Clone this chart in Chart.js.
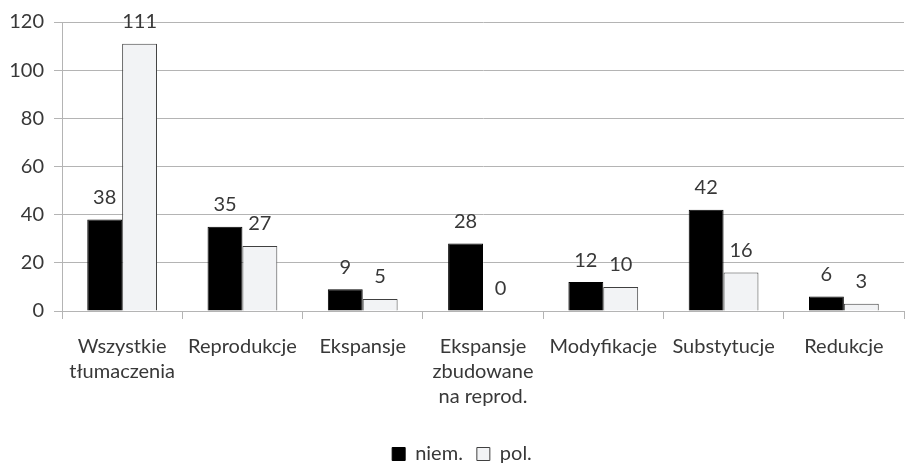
<!DOCTYPE html>
<html>
<head>
<meta charset="utf-8">
<script src="https://cdn.jsdelivr.net/npm/chart.js@4.4.0/dist/chart.umd.min.js"></script>
<style>
  body { margin: 0; background: #fff; }
  #wrap { width: 905px; height: 464px; }
</style>
</head>
<body>
<div id="wrap"><canvas id="chart" width="905" height="464"></canvas></div>
<script>
// dane z wykresu
const categories = [
  ['Wszystkie', 'tłumaczenia'],
  'Reprodukcje',
  'Ekspansje',
  ['Ekspansje', 'zbudowane', 'na reprod.'],
  'Modyfikacje',
  'Substytucje',
  'Redukcje'
];
const niem = [38, 35, 9, 28, 12, 42, 6];
const pol = [111, 27, 5, 0, 10, 16, 3];
const yTicks = [0, 20, 40, 60, 80, 100, 120];

const textColor = '#383838';
const gridColor = '#b4b4b4';
const fontFamily = 'Lato, "Open Sans", sans-serif';

// etykiety wartości nad słupkami
const valueLabels = {
  id: 'valueLabels',
  afterDatasetsDraw(chart) {
    const ctx = chart.ctx;
    ctx.save();
    ctx.font = '20px ' + fontFamily;
    ctx.fillStyle = textColor;
    ctx.textAlign = 'center';
    ctx.textBaseline = 'middle';
    chart.data.datasets.forEach((ds, i) => {
      const meta = chart.getDatasetMeta(i);
      meta.data.forEach((bar, j) => {
        ctx.fillText(ds.data[j], bar.x, bar.y - 22);
      });
    });
    ctx.restore();
  }
};

// legenda w oryginale jest lekko przesunięta w prawo
const legendShift = {
  id: 'legendShift',
  afterLayout(chart) {
    const lg = chart.legend;
    if (lg) { lg.left += 10; lg.right += 10; }
  }
};

new Chart(document.getElementById('chart'), {
  type: 'bar',
  data: {
    labels: categories,
    datasets: [
      {
        label: 'niem.',
        data: niem,
        backgroundColor: '#000000',
        borderColor: '#000000',
        borderWidth: 1
      },
      {
        label: 'pol.',
        data: pol,
        backgroundColor: '#f2f3f5',
        borderColor: '#404040',
        borderWidth: 1
      }
    ]
  },
  options: {
    responsive: false,
    animation: false,
    layout: { padding: { top: 22, right: 1, left: 0, bottom: 0 } },
    datasets: {
      bar: { categoryPercentage: 0.58, barPercentage: 1.0 }
    },
    plugins: {
      legend: {
        position: 'bottom',
        maxHeight: 34,
        labels: {
          color: textColor,
          font: { family: fontFamily, size: 20 },
          boxWidth: 13,
          boxHeight: 13,
          padding: 14
        }
      },
      tooltip: { enabled: false }
    },
    scales: {
      x: {
        grid: {
          display: true,
          drawOnChartArea: false,
          drawTicks: true,
          tickLength: 8,
          color: gridColor,
          offset: true
        },
        border: { color: gridColor },
        ticks: {
          color: textColor,
          font: { family: fontFamily, size: 20, lineHeight: 1.25 },
          padding: 15,
          maxRotation: 0,
          autoSkip: false
        },
        afterFit(scale) { scale.height = 119; }
      },
      y: {
        min: 0,
        max: 120,
        afterBuildTicks(scale) { scale.ticks = yTicks.map(v => ({ value: v })); },
        grid: { color: gridColor, tickLength: 8 },
        border: { color: gridColor },
        ticks: {
          color: textColor,
          font: { family: fontFamily, size: 20 },
          padding: 10
        },
        afterFit(scale) { scale.width = 62; }
      }
    }
  },
  plugins: [valueLabels, legendShift]
});
</script>
</body>
</html>
